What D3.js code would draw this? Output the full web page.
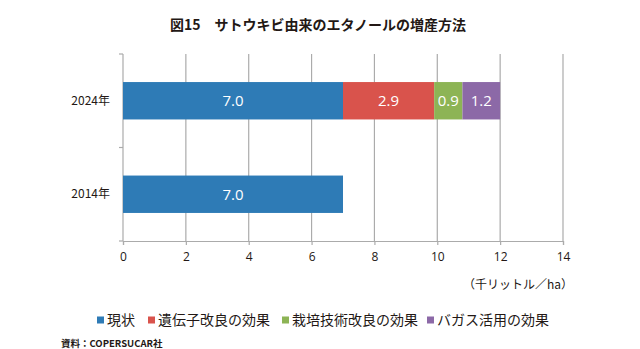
<!DOCTYPE html>
<html>
<head>
<meta charset="utf-8">
<script src="https://cdn.jsdelivr.net/npm/d3@7"></script>
<style>
  html, body { margin: 0; padding: 0; background: #fff; }
  svg { display: block; font-family: "Noto Sans CJK JP", "Noto Sans", sans-serif; }
</style>
</head>
<body>
<svg id="chart" width="640" height="349"></svg>
<script>
// Chart data
const years = ["2024年", "2014年"];
const seriesNames = ["現状", "遺伝子改良の効果", "栽培技術改良の効果", "バガス活用の効果"];
const current = [7.0, 7.0];
const geneEffect = [2.9, 0];
const cultivationEffect = [0.9, 0];
const bagasseEffect = [1.2, 0];
const xTicks = [0, 2, 4, 6, 8, 10, 12, 14];
const colors = ["#2e7bb6", "#d9534c", "#8db455", "#8c69a7"];

const svg = d3.select("#chart");
const margin = { left: 123, right: 77, top: 54, bottom: 108 };
const W = 640, H = 349;

const x = d3.scaleLinear().domain([0, 14]).range([margin.left, W - margin.right]);
const y = d3.scaleBand().domain(years).range([margin.top, H - margin.bottom])
  .paddingInner(0.6).paddingOuter(0.3);

const rows = years.map((yr, i) => ({
  year: yr,
  [seriesNames[0]]: current[i],
  [seriesNames[1]]: geneEffect[i],
  [seriesNames[2]]: cultivationEffect[i],
  [seriesNames[3]]: bagasseEffect[i]
}));
const stacked = d3.stack().keys(seriesNames)(rows);

const gridColor = "#ababab";
const textColor = "#231815";

// Title
svg.append("text")
  .attr("x", 318).attr("y", 30)
  .attr("text-anchor", "middle")
  .attr("font-size", 14).attr("font-weight", "bold").attr("fill", textColor)
  .text("図15　サトウキビ由来のエタノールの増産方法");

// Vertical gridlines
svg.append("g").selectAll("line")
  .data(xTicks.filter(d => d > 0))
  .join("line")
  .attr("x1", d => x(d)).attr("x2", d => x(d))
  .attr("y1", margin.top).attr("y2", H - margin.bottom)
  .attr("stroke", gridColor).attr("stroke-width", 1.2);

// Bottom axis
const xAxis = svg.append("g")
  .attr("transform", `translate(0,${H - margin.bottom})`)
  .call(d3.axisBottom(x).tickValues(xTicks).tickSize(4).tickPadding(7).tickFormat(d3.format("d")));
xAxis.select(".domain").attr("stroke", gridColor).attr("stroke-width", 1.2);
xAxis.selectAll(".tick line").attr("stroke", gridColor).attr("stroke-width", 1.2);
xAxis.selectAll(".tick text").attr("font-size", 12).attr("fill", textColor)
  .attr("font-family", "\"Open Sans\", \"Noto Sans\", sans-serif");

// Left axis with separator ticks at band edges
svg.append("line")
  .attr("x1", margin.left).attr("x2", margin.left)
  .attr("y1", margin.top).attr("y2", H - margin.bottom)
  .attr("stroke", gridColor).attr("stroke-width", 1.2);
const sepY = [margin.top, (y(years[0]) + y.bandwidth() + y(years[1])) / 2, H - margin.bottom];
svg.append("g").selectAll("line")
  .data(sepY)
  .join("line")
  .attr("x1", margin.left - 4).attr("x2", margin.left)
  .attr("y1", d => d).attr("y2", d => d)
  .attr("stroke", gridColor).attr("stroke-width", 1.2);

// Category labels
svg.append("g").selectAll("text")
  .data(years)
  .join("text")
  .attr("x", 110)
  .attr("y", d => y(d) + y.bandwidth() / 2)
  .attr("dy", "0.35em")
  .attr("text-anchor", "end")
  .attr("font-size", 12).attr("fill", textColor)
  .text(d => d);

// Stacked bars
const layer = svg.append("g").selectAll("g")
  .data(stacked)
  .join("g")
  .attr("fill", (d, i) => colors[i]);

layer.selectAll("rect")
  .data(d => d.map(v => ({ v, key: d.key })))
  .join("rect")
  .attr("x", d => x(d.v[0]))
  .attr("y", d => y(d.v.data.year))
  .attr("width", d => x(d.v[1]) - x(d.v[0]))
  .attr("height", y.bandwidth());

// Value labels inside segments
layer.selectAll("text")
  .data(d => d.filter(v => v[1] - v[0] > 0).map(v => ({ v })))
  .join("text")
  .attr("x", d => (x(d.v[0]) + x(d.v[1])) / 2)
  .attr("y", d => y(d.v.data.year) + y.bandwidth() / 2)
  .attr("dy", "0.36em")
  .attr("text-anchor", "middle")
  .attr("font-size", 15).attr("fill", "#fff")
  .attr("font-family", "\"Open Sans\", \"Noto Sans\", sans-serif")
  .text(d => d3.format(".1f")(d.v[1] - d.v[0]));

// Unit label
svg.append("text")
  .attr("x", 573).attr("y", 289)
  .attr("text-anchor", "end")
  .attr("font-size", 12).attr("fill", textColor)
  .text("（千リットル／ha）");

// Legend
const legendX = [97, 148, 282, 427];
const legend = svg.append("g").selectAll("g")
  .data(seriesNames)
  .join("g")
  .attr("transform", (d, i) => `translate(${legendX[i]},320)`);
legend.append("rect")
  .attr("x", 0).attr("y", -3.5).attr("width", 7).attr("height", 7)
  .attr("fill", (d, i) => colors[i]);
legend.append("text")
  .attr("x", 10).attr("dy", "0.36em")
  .attr("font-size", 14).attr("fill", textColor)
  .text(d => d);

// Source note
svg.append("text")
  .attr("x", 61).attr("y", 347)
  .attr("font-size", 9.5).attr("font-weight", "bold").attr("fill", textColor)
  .text("資料：COPERSUCAR社");
</script>
</body>
</html>
